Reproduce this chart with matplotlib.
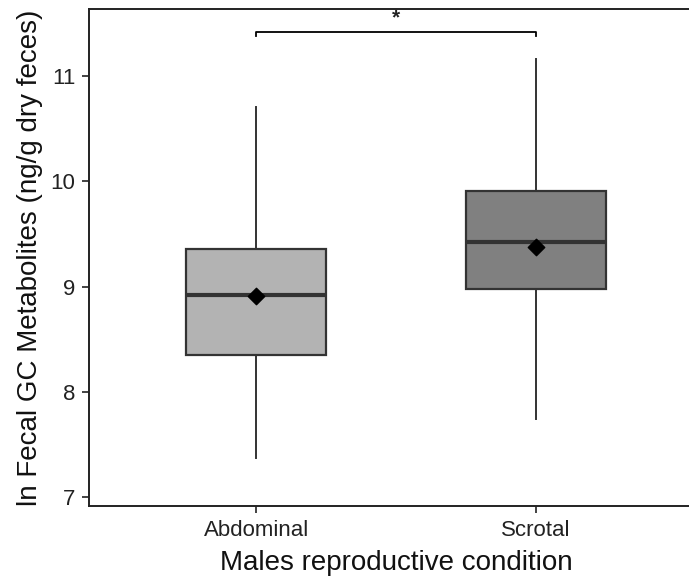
import matplotlib
matplotlib.use("Agg")
import matplotlib.pyplot as plt

plt.rcParams['font.family'] = ['Liberation Sans', 'DejaVu Sans']

categories = ["Abdominal", "Scrotal"]
whisker_low = [7.376, 7.746]
q1 = [8.349, 8.978]
medians = [8.921, 9.422]
q3 = [9.358, 9.909]
whisker_high = [10.709, 11.159]
means = [8.91, 9.38]
fills = ["#b3b3b3", "#808080"]
yticks = [7, 8, 9, 10, 11]
sig_label = "*"

fig = plt.figure(figsize=(6.89, 5.81), dpi=100)
ax = fig.add_axes([88.5/689, 1 - 505.7/581, 615/689, (505.7 - 9)/581])

edge = "#333333"
stats = []
for i, c in enumerate(categories):
    stats.append(dict(label=c, whislo=whisker_low[i], q1=q1[i], med=medians[i],
                      q3=q3[i], whishi=whisker_high[i], fliers=[]))
pos = [1, 2]
bp = ax.bxp(stats, positions=pos, widths=0.5, patch_artist=True, showcaps=False,
            boxprops=dict(edgecolor=edge, linewidth=1.6),
            medianprops=dict(color=edge, linewidth=3.0),
            whiskerprops=dict(color=edge, linewidth=1.4),
            manage_ticks=False)
for patch, f in zip(bp['boxes'], fills):
    patch.set_facecolor(f)

ax.scatter(pos, means, marker='D', s=70, color='black', zorder=5)

# significance bracket
yb = 11.416
ax.plot([1, 1, 2, 2], [yb - 0.035, yb, yb, yb - 0.035], color='black', lw=1.3)
ax.text(1.5, yb + 0.05, sig_label, ha='center', va='bottom', fontsize=15,
        fontweight='bold', color='#222222')

ax.set_xlim(0.4, 2.6)
ax.set_ylim(6.92, 11.637)
ax.set_xticks(pos)
ax.set_xticklabels(categories)
ax.set_yticks(yticks)
ax.tick_params(axis='both', labelsize=16, colors='#222222', length=5, width=1.2, direction='out')
ax.tick_params(axis='x', pad=5.5)
ax.tick_params(axis='y', pad=4.5)
for s in ['left', 'bottom', 'top']:
    ax.spines[s].set_linewidth(1.4)
    ax.spines[s].set_color('#222222')
ax.spines['right'].set_visible(False)

ax.set_xlabel("Males reproductive condition", fontsize=20, color='#111111', labelpad=6)
ax.set_ylabel("ln Fecal GC Metabolites (ng/g dry feces)", fontsize=20, color='#111111', labelpad=5)

fig.savefig("out.png", dpi=100)
